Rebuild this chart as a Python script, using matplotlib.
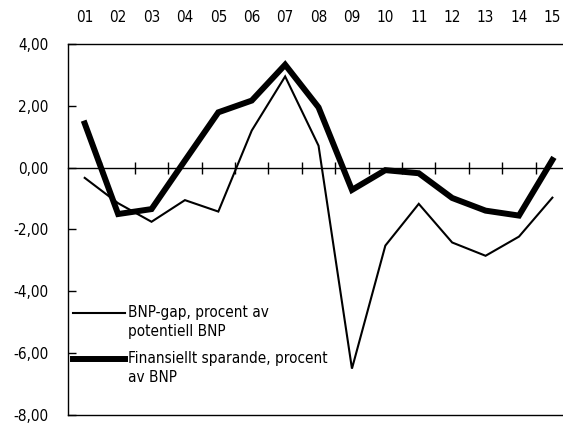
import matplotlib
matplotlib.use("Agg")
import matplotlib.pyplot as plt
from matplotlib.lines import Line2D

plt.rcParams['font.family'] = ['DejaVu Sans']
plt.rcParams['font.stretch'] = 'condensed'

years = ['01', '02', '03', '04', '05', '06', '07', '08', '09', '10', '11', '12', '13', '14', '15']
bnp_gap = [-0.33, -1.15, -1.75, -1.05, -1.42, 1.2, 2.95, 0.71, -6.5, -2.52, -1.17, -2.42, -2.85, -2.23, -0.97]
fin_sparande = [1.43, -1.5, -1.34, 0.23, 1.79, 2.17, 3.33, 1.95, -0.72, -0.08, -0.18, -0.98, -1.39, -1.55, 0.25]
label_gap = 'BNP-gap, procent av\npotentiell BNP'
label_fin = 'Finansiellt sparande, procent\nav BNP'
yticks = [4, 2, 0, -2, -4, -6, -8]

fig = plt.figure(figsize=(5.63, 4.23), dpi=100)
ax = fig.add_axes([0.1208, 0.0189, 0.89, 0.8771])

x = list(range(1, len(years) + 1))
ax.plot(x, bnp_gap, color='black', lw=1.5, solid_joinstyle='miter')
ax.plot(x, fin_sparande, color='black', lw=4.3, solid_joinstyle='miter')

ax.set_xlim(0.5, len(years) + 0.5)
ax.set_ylim(-8, 4)

# zero line with category boundary ticks
ax.spines['bottom'].set_position(('data', 0))
ax.spines['bottom'].set_linewidth(1.0)
ax.set_xticks([i + 0.5 for i in range(1, len(years))])
ax.tick_params(axis='x', which='major', direction='inout', length=8.5, width=1.0,
               bottom=True, top=False, labelbottom=False)
ax.set_xticks(x, minor=True)
ax.set_xticklabels(years, minor=True)
ax.tick_params(axis='x', which='minor', top=True, bottom=False, labeltop=True,
               labelbottom=False, length=0, pad=14, labelsize=11)
ax.axhline(-8, color='black', lw=1.0, clip_on=False)

ax.spines['right'].set_visible(False)
ax.spines['top'].set_linewidth(1.0)
ax.spines['left'].set_linewidth(1.0)

ax.set_yticks(yticks)
ax.set_yticklabels([f'{v:.2f}'.replace('.', ',') for v in yticks])
ax.tick_params(axis='y', direction='in', length=6, width=1.0, labelsize=11, pad=14)

# legend
ax.add_line(Line2D([0.01, 0.114], [0.275, 0.275], transform=ax.transAxes, color='black', lw=1.5))
ax.text(0.12, 0.296, label_gap, transform=ax.transAxes, va='top', ha='left',
        fontsize=11, linespacing=1.35)
ax.add_line(Line2D([0.01, 0.114], [0.151, 0.151], transform=ax.transAxes, color='black', lw=4.3))
ax.text(0.12, 0.172, label_fin, transform=ax.transAxes, va='top', ha='left',
        fontsize=11, linespacing=1.35)

fig.savefig('out.png', dpi=100)
